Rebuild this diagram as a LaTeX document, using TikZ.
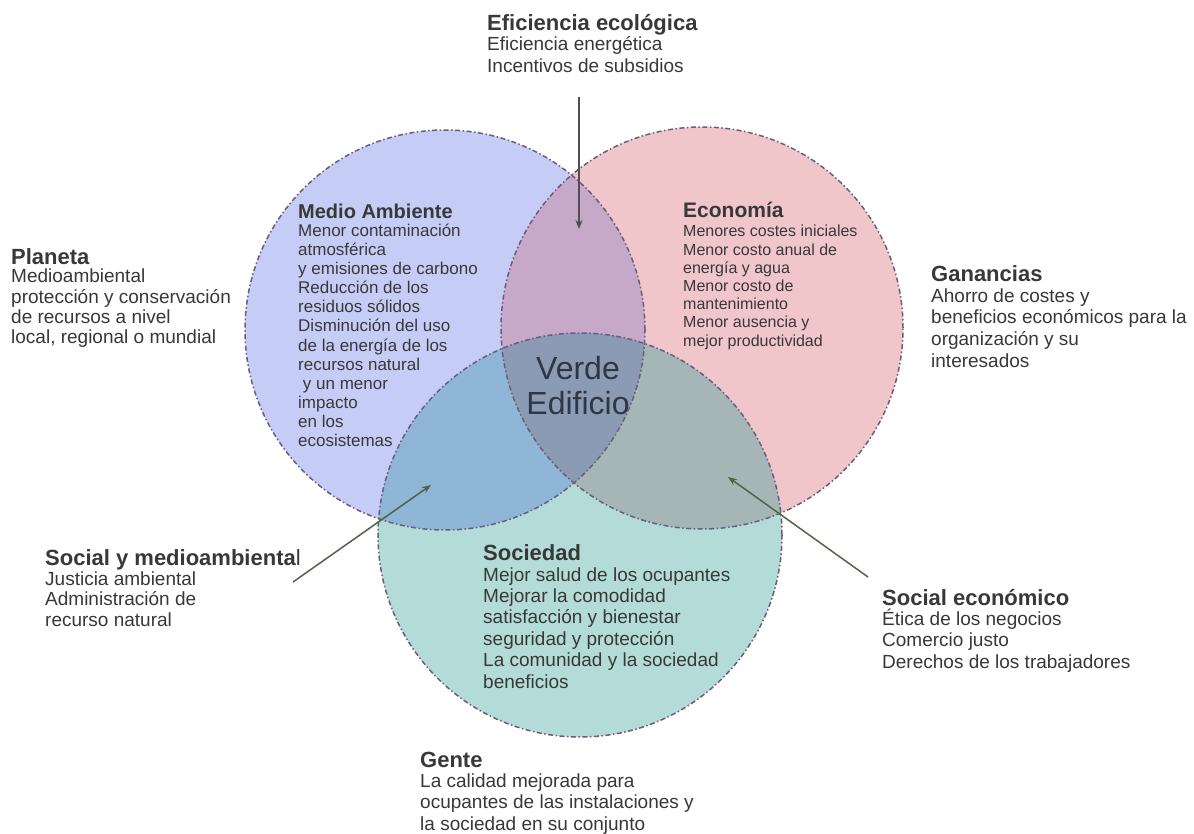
\documentclass[tikz,border=0pt]{standalone}
\usepackage{fontspec}
\setmainfont{Liberation Sans}
\usetikzlibrary{arrows.meta}
\definecolor{cblue}{HTML}{C5CDF7}
\definecolor{cpink}{HTML}{F1C6CB}
\definecolor{cteal}{HTML}{B3DCD9}
\definecolor{cbp}{HTML}{C6A8C9}
\definecolor{cbt}{HTML}{8FB6D6}
\definecolor{cpt}{HTML}{A6B6B7}
\definecolor{ctri}{HTML}{8B9BB3}
\definecolor{cedge}{HTML}{6A5C7C}
\definecolor{txt}{HTML}{383838}
\definecolor{ctrtxt}{HTML}{2F3747}
\definecolor{agray}{HTML}{505050}
\definecolor{agreen}{HTML}{4B6646}
\tikzset{
  ttl/.style={anchor=base west, inner sep=0pt, text=txt, font=\bfseries\fontsize{22}{24}\selectfont},
  bdy/.style={anchor=base west, inner sep=0pt, text=txt},
  ring/.style={draw=cedge, line width=1.5pt, dash pattern=on 5pt off 2.5pt on 1.5pt off 2.5pt},
  pointer/.style={line width=1.5pt, -{Stealth[length=9pt,width=7pt]}}
}
\newcommand{\txtlines}[1]{\begin{tabular}[t]{@{}l@{}}#1\end{tabular}}
\begin{document}
\begin{tikzpicture}[x=1pt,y=-1pt]
\path[use as bounding box, fill=white] (0,0) rectangle (1194,834);
\coordinate (B) at (445,330);
\coordinate (P) at (702,328);
\coordinate (T) at (580,535);
% fills
\fill[cblue] (B) circle[radius=200pt];
\fill[cpink] (P) circle[radius=201pt];
\fill[cteal] (T) circle[radius=202pt];
\begin{scope}\clip (B) circle[radius=200pt]; \fill[cbp] (P) circle[radius=201pt];\end{scope}
\begin{scope}\clip (B) circle[radius=200pt]; \fill[cbt] (T) circle[radius=202pt];\end{scope}
\begin{scope}\clip (P) circle[radius=201pt]; \fill[cpt] (T) circle[radius=202pt];\end{scope}
\begin{scope}\clip (B) circle[radius=200pt]; \clip (P) circle[radius=201pt]; \fill[ctri] (T) circle[radius=202pt];\end{scope}
% borders
\draw[ring] (B) circle[radius=200pt];
\draw[ring] (P) circle[radius=201pt];
\draw[ring] (T) circle[radius=202pt];

% Eficiencia ecologica
\node[ttl] (efT) at (487,31) {Eficiencia ecológica};
\node[bdy, font=\fontsize{19}{22}\selectfont] (efB) at (487,51) {\txtlines{Eficiencia energética\\Incentivos de subsidios}};

% Planeta
\node[ttl] (plT) at (11,265) {Planeta};
\node[bdy, font=\fontsize{19}{20.3}\selectfont] (plB) at (11,283) {\txtlines{Medioambiental\\protección y conservación\\de recursos a nivel\\local, regional o mundial}};

% Medio Ambiente
\node[ttl, font=\bfseries\fontsize{20}{22}\selectfont] (maT) at (298,219) {Medio Ambiente};
\node[bdy, font=\fontsize{17}{19.1}\selectfont] (maB) at (298,236.5) {\txtlines{Menor contaminación\\atmosférica\\y emisiones de carbono\\Reducción de los\\residuos sólidos\\Disminución del uso\\de la energía de los\\recursos natural\\\ y un menor\\impacto\\en los\\ecosistemas}};

% Economia
\node[ttl, font=\bfseries\fontsize{21}{23}\selectfont] (ecT) at (683,218) {Economía};
\node[bdy, font=\fontsize{16}{18.2}\selectfont] (ecB) at (683,237) {\txtlines{Menores costes iniciales\\Menor costo anual de\\energía y agua\\Menor costo de\\mantenimiento\\Menor ausencia y\\mejor productividad}};

% Ganancias
\node[ttl] (gaT) at (931,282) {Ganancias};
\node[bdy, font=\fontsize{19}{21.8}\selectfont] (gaB) at (931,302) {\txtlines{Ahorro de costes y\\beneficios económicos para la\\organización y su\\interesados}};

% Verde Edificio
\node[anchor=base, inner sep=0pt, text=ctrtxt, font=\fontsize{32}{35}\selectfont] (ve) at (578,379) {\begin{tabular}[t]{@{}c@{}}Verde\\Edificio\end{tabular}};

% Social y medioambiental
\node[ttl] (smT) at (45,565) {Social y medioambienta{\mdseries l}};
\node[bdy, font=\fontsize{19}{20.8}\selectfont] (smB) at (45,585) {\txtlines{Justicia ambiental\\Administración de\\recurso natural}};

% Sociedad
\node[ttl] (soT) at (483,560) {Sociedad};
\node[bdy, font=\fontsize{19}{21.4}\selectfont] (soB) at (483,581) {\txtlines{Mejor salud de los ocupantes\\Mejorar la comodidad\\satisfacción y bienestar\\seguridad y protección\\La comunidad y la sociedad\\beneficios}};

% Social economico
\node[ttl] (seT) at (882,605) {Social económico};
\node[bdy, font=\fontsize{19}{21.5}\selectfont] (seB) at (882,625) {\txtlines{Ética de los negocios\\Comercio justo\\Derechos de los trabajadores}};

% Gente
\node[ttl] (geT) at (420,767) {Gente};
\node[bdy, font=\fontsize{19}{21.5}\selectfont] (geB) at (420,787) {\txtlines{La calidad mejorada para\\ocupantes de las instalaciones y\\la sociedad en su conjunto}};

% arrows
\coordinate (a1s) at (579,97);
\coordinate (a1e) at (579,229);
\coordinate (a2s) at (293,582);
\coordinate (a2e) at (431,485);
\coordinate (a3s) at (868,577);
\coordinate (a3e) at (728,477);
\draw[pointer, draw=agray, fill=agray] (a1s) -- (a1e);
\draw[pointer, draw=agreen, fill=agreen] (a2s) -- (a2e);
\draw[pointer, draw=agreen, fill=agreen] (a3s) -- (a3e);
\end{tikzpicture}
\end{document}
